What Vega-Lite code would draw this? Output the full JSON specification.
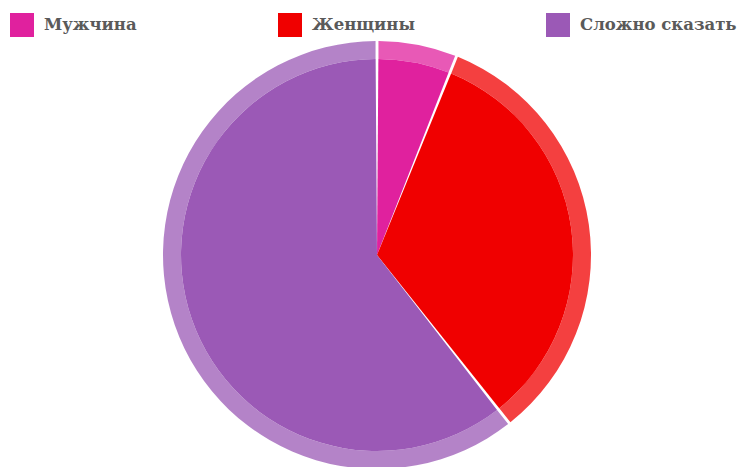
{
  "$schema": "https://vega.github.io/schema/vega-lite/v6.json",
  "width": 754,
  "height": 510,
  "padding": 0,
  "autosize": {"type": "pad"},
  "background": "white",
  "view": {"stroke": null},
  "data": {"values": [
    {"category": "Мужчина", "value": 2, "order": 1},
    {"category": "Женщины", "value": 11, "order": 2},
    {"category": "Сложно сказать", "value": 20, "order": 3}
  ]},
  "encoding": {
    "theta": {"field": "value", "type": "quantitative", "stack": true},
    "order": {"field": "order", "type": "quantitative"},
    "color": {
      "field": "category",
      "type": "nominal",
      "scale": {"domain": ["Мужчина", "Женщины", "Сложно сказать"], "range": ["#E0219E", "#F00000", "#9B59B6"]},
      "sort": ["Мужчина", "Женщины", "Сложно сказать"],
      "legend": {
        "title": null,
        "orient": "none",
        "legendX": 10,
        "legendY": 13,
        "direction": "horizontal",
        "columns": 3,
        "gridAlign": "all",
        "columnPadding": 77,
        "symbolType": "square",
        "symbolSize": 576,
        "symbolStrokeWidth": 0,
        "symbolOpacity": 1,
        "labelOffset": 10,
        "labelFont": "DejaVu Serif",
        "labelFontWeight": "bold",
        "labelFontSize": 16.5,
        "labelColor": "#5a5a5a",
        "labelLimit": 300
      }
    }
  },
  "layer": [
    {"mark": {"type": "arc", "innerRadius": 196, "outerRadius": 214, "opacity": 0.75, "padAngle": 0.01}},
    {"mark": {"type": "arc", "outerRadius": 196, "opacity": 1, "padAngle": 0.014}}
  ]
}
